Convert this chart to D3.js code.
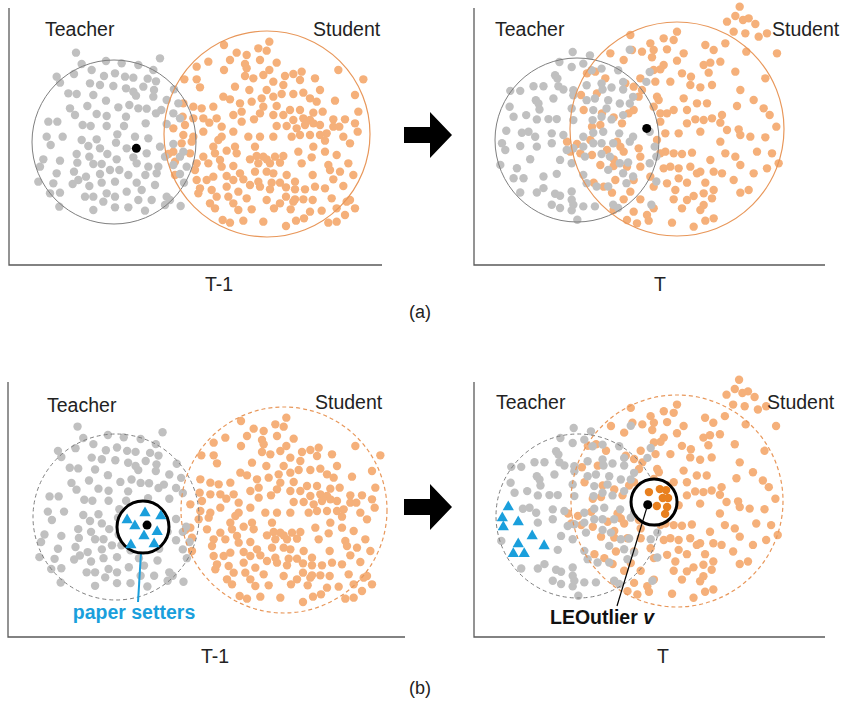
<!DOCTYPE html>
<html>
<head>
<meta charset="utf-8">
<script src="https://cdn.jsdelivr.net/npm/d3@7"></script>
<style>
  body { margin: 0; background: #fff; }
  text { font-family: Arial, "Liberation Sans", Helvetica, sans-serif; }
</style>
</head>
<body>
<div id="chart"></div>
<script>
// Labels
const clusterNames = ["Teacher", "Student"];
const timeLabels = ["T-1", "T"];
const rowLabels = ["(a)", "(b)"];
const noteLabels = ["paper setters", "LEOutlier"];

// Sketch-space points, step T-1
const teacherPrev = [[228,158],[480,175],[318,183],[365,190],[245,192],[415,195],[460,210],[275,210],[222,222],[170,230],[180,248],[312,228],[345,220],[375,230],[400,233],[443,236],[468,244],[270,250],[300,255],[340,258],[378,265],[400,275],[430,260],[462,270],[522,268],[205,280],[230,282],[280,285],[318,302],[408,287],[460,290],[500,300],[210,325],[262,318],[355,322],[388,315],[415,325],[440,326],[484,330],[535,310],[225,345],[290,342],[320,348],[378,350],[468,340],[520,340],[540,355],[145,365],[172,365],[248,375],[272,378],[320,378],[372,378],[437,370],[500,372],[140,410],[188,410],[245,420],[290,418],[352,403],[405,410],[445,415],[152,435],[265,438],[300,445],[348,428],[380,445],[480,440],[520,432],[130,478],[180,482],[230,462],[268,470],[322,462],[350,478],[400,472],[440,460],[495,470],[540,470],[550,455],[120,500],[232,488],[280,492],[305,492],[358,510],[410,490],[445,500],[475,500],[520,495],[560,500],[170,520],[222,515],[258,530],[300,522],[330,510],[385,525],[436,525],[470,520],[540,522],[115,545],[160,550],[218,552],[235,540],[268,558],[305,548],[345,545],[410,548],[465,555],[552,548],[150,580],[180,578],[255,590],[280,590],[320,580],[380,575],[425,570],[500,590],[310,605],[345,590],[415,600],[455,600],[510,600],[178,620],[280,630],[345,622],[385,622],[435,632],[495,615],[542,618]];

const studentPrev = [[672,135],[808,125],[800,152],[775,145],[710,158],[740,165],[625,185],[690,180],[735,192],[780,180],[830,188],[590,200],[672,210],[740,205],[808,210],[1015,210],[905,215],[880,222],[553,238],[590,238],[735,228],[760,235],[790,225],[855,228],[900,240],[945,235],[1090,238],[820,245],[600,262],[705,260],[748,270],[800,270],[850,255],[845,282],[880,282],[910,278],[1065,285],[960,270],[670,290],[690,298],[720,310],[755,305],[785,295],[820,290],[930,295],[950,305],[1005,302],[550,310],[580,320],[605,325],[640,320],[790,320],[830,318],[870,330],[900,330],[940,338],[968,335],[1075,335],[610,355],[580,355],[548,350],[650,355],[700,345],[725,335],[780,340],[820,345],[850,345],[880,360],[910,355],[930,360],[1000,358],[1035,358],[520,385],[555,375],[628,368],[665,380],[725,365],[762,358],[830,378],[860,378],[890,385],[915,375],[940,370],[960,375],[1000,380],[1018,380],[1065,370],[1073,395],[550,405],[580,410],[610,395],[665,410],[700,395],[745,410],[780,410],[820,410],[875,410],[900,405],[930,405],[960,405],[980,400],[1030,410],[545,430],[575,425],[640,440],[655,420],[705,440],[765,440],[520,455],[505,462],[570,460],[610,470],[645,460],[680,452],[710,460],[770,468],[790,470],[800,478],[825,470],[850,468],[895,455],[940,440],[975,422],[1050,430],[975,455],[1010,465],[750,478],[660,480],[525,485],[590,490],[625,490],[665,500],[700,498],[775,490],[810,490],[840,488],[905,490],[935,472],[985,495],[990,510],[1045,490],[585,510],[720,520],[765,515],[800,515],[820,520],[860,525],[1020,515],[525,525],[590,540],[620,540],[640,530],[680,528],[700,540],[730,538],[775,545],[815,548],[840,548],[885,545],[938,525],[1060,525],[1000,538],[600,565],[635,570],[680,560],[715,575],[750,555],[780,560],[810,568],[858,562],[885,568],[915,568],[945,560],[975,565],[1030,558],[595,580],[650,590],[685,590],[740,595],[800,600],[858,590],[885,598],[910,598],[938,600],[995,595],[1050,600],[630,610],[700,610],[840,610],[880,605],[1040,605],[645,625],[715,630],[755,628],[822,625],[872,628],[930,635],[965,632],[1010,625],[1065,625],[1035,645],[668,660],[690,668],[730,662],[790,665],[858,678],[888,662],[912,655],[985,668],[1010,665]];

// Step T
const teacherCur = [[458,155],[510,165],[630,148],[418,185],[455,200],[490,190],[515,210],[545,205],[405,225],[412,235],[595,210],[690,215],[270,272],[300,272],[340,258],[370,258],[415,258],[430,268],[460,270],[500,255],[545,250],[548,268],[575,262],[610,245],[610,268],[640,290],[680,245],[347,300],[355,310],[400,295],[460,285],[500,300],[525,295],[565,300],[600,310],[630,310],[268,320],[358,328],[455,325],[520,330],[560,325],[610,345],[280,350],[318,345],[350,358],[385,357],[410,357],[460,360],[518,360],[545,350],[575,358],[258,392],[305,398],[325,395],[345,410],[395,400],[430,405],[490,410],[520,398],[550,395],[598,400],[640,410],[690,395],[245,430],[300,438],[255,450],[350,440],[395,430],[440,450],[460,445],[490,440],[520,430],[545,430],[580,430],[630,425],[705,440],[240,495],[290,505],[330,478],[420,480],[455,490],[495,470],[545,462],[570,470],[600,490],[625,488],[690,490],[710,470],[280,535],[310,535],[370,530],[410,522],[490,525],[565,510],[610,520],[640,530],[300,578],[350,578],[370,565],[405,582],[420,588],[455,575],[500,550],[530,560],[565,560],[620,550],[710,545],[395,615],[420,625],[455,600],[460,615],[490,620],[525,620],[580,615],[595,625],[695,615],[472,660],[455,632]];

const studentCur = [[958,20],[920,65],[945,48],[968,60],[985,55],[1005,72],[940,95],[975,100],[1015,110],[1040,100],[1070,160],[978,155],[630,105],[770,95],[730,115],[760,120],[690,130],[855,135],[880,150],[915,130],[570,160],[635,150],[665,155],[700,150],[740,148],[790,160],[610,180],[695,172],[770,182],[730,195],[850,195],[870,188],[900,185],[945,215],[1035,235],[500,220],[525,215],[555,235],[660,235],[700,210],[720,208],[785,220],[812,230],[865,218],[615,250],[640,260],[705,245],[750,245],[810,255],[840,262],[875,255],[960,270],[665,270],[482,285],[530,280],[655,290],[710,290],[715,300],[790,295],[830,310],[860,310],[950,318],[1000,300],[1030,325],[490,330],[545,340],[580,352],[625,340],[640,330],[700,320],[720,340],[740,340],[760,330],[800,330],[905,345],[1048,345],[515,380],[540,375],[605,370],[720,365],[800,370],[825,358],[850,360],[875,355],[900,368],[920,390],[955,388],[1068,380],[440,425],[470,432],[510,420],[590,425],[600,440],[610,455],[655,445],[710,420],[735,400],[775,400],[840,395],[900,425],[960,405],[990,410],[1035,412],[450,455],[480,460],[515,465],[560,450],[580,478],[660,470],[720,460],[735,455],[760,460],[785,462],[815,458],[870,480],[915,460],[945,470],[1010,455],[1055,460],[1075,490],[540,495],[580,498],[620,500],[660,500],[730,505],[750,500],[775,505],[810,500],[840,515],[880,515],[960,495],[1040,505],[520,548],[550,560],[585,540],[640,540],[690,530],[740,550],[775,535],[800,548],[830,520],[855,548],[905,520],[940,540],[1000,520],[575,578],[630,575],[700,560],[765,570],[820,588],[850,580],[880,570],[960,578],[985,570],[610,598],[660,598],[700,625],[760,598],[800,600],[850,615],[875,595],[580,630],[640,635],[680,645],[785,625],[840,630],[620,660],[650,670],[685,662],[755,668],[820,680],[855,662],[880,655]];

// Extra marks in row (b)
const settersPrev = [[375,435],[428,414],[475,423],[398,453],[425,482],[464,470],[386,509],[455,506]];
const settersCur = [[261,393],[243,426],[291,438],[246,453],[333,480],[291,504],[369,510],[276,534],[309,534]];
const outlierNeighbours = [[685,360],[718,351],[737,354],[727,378],[743,378],[709,402],[740,405],[734,426]];
const anchorPrev = [[409,445],[434,450]];   // row a, row b
const anchorCur = [[681,385],[681,386]];
const ringPrev = [422,456];
const ringCur = [700,378];

// Sketch-space circles the points were read against: [cx, cy, r]
const sketch = {
  prev: { teacher: [342,426,246], student: [801,402,309] },
  cur:  { teacher: [471,420,247], student: [770,387,321] }
};

// Page layout of the four panels
const panels = [
  { row: 0, step: "prev", frame: [9,8,382,265],   teacher: [114,142,82], student: [267,134,103],
    tLabel: [45,36], sLabel: [313,36] },
  { row: 0, step: "cur",  frame: [474,8,825,265], teacher: [577,140,82], student: [677,129,107],
    tLabel: [495,36], sLabel: [772,36] },
  { row: 1, step: "prev", frame: [8,382,405,637], teacher: [116,517,83], student: [284,510,103],
    tLabel: [47,412], sLabel: [315,409] },
  { row: 1, step: "cur",  frame: [474,382,825,637], teacher: [578,516,82], student: [677,501,106],
    tLabel: [496,409], sLabel: [767,409] }
];

const grey = "#c0c0c0", orange = "#f5b07a", darkOrange = "#e8801f", blue = "#1a9fdc";
const greyLine = "#7f7f7f", orangeLine = "#e8975a";
const dotR = 4.2;
const fontSize = 19.5;

const svg = d3.select("#chart").append("svg")
  .attr("width", 841)
  .attr("height", 704);

function clusterScales(src, dst) {
  return {
    x: d3.scaleLinear().domain([src[0] - src[2], src[0] + src[2]]).range([dst[0] - dst[2], dst[0] + dst[2]]),
    y: d3.scaleLinear().domain([src[1] - src[2], src[1] + src[2]]).range([dst[1] - dst[2], dst[1] + dst[2]])
  };
}

const triangle = d3.symbol().type(d3.symbolTriangle).size(55);

panels.forEach(function(p) {
  const g = svg.append("g");
  const dashed = p.row === 1;
  const ts = clusterScales(sketch[p.step].teacher, p.teacher);
  const ss = clusterScales(sketch[p.step].student, p.student);
  const teacherPts = p.step === "prev" ? teacherPrev : teacherCur;
  const studentPts = p.step === "prev" ? studentPrev : studentCur;
  const setters = p.step === "prev" ? settersPrev : settersCur;

  // frame
  const f = p.frame;
  g.append("path")
    .attr("d", `M${f[0]},${f[1]}V${f[3]}H${f[2]}`)
    .attr("fill", "none")
    .attr("stroke", "#5a5a5a")
    .attr("stroke-width", 1.3);

  // in (b) at T the paper setters take the place of some teacher dots
  let shownTeacher = teacherPts;
  if (dashed && p.step === "cur") {
    shownTeacher = teacherPts.filter(function(d) {
      return !setters.some(s => Math.hypot(ts.x(d[0]) - ts.x(s[0]), ts.y(d[1]) - ts.y(s[1])) < 8);
    });
  }

  g.append("g").selectAll("circle")
    .data(studentPts)
    .join("circle")
    .attr("cx", d => ss.x(d[0]))
    .attr("cy", d => ss.y(d[1]))
    .attr("r", dotR)
    .attr("fill", orange);

  g.append("g").selectAll("circle")
    .data(shownTeacher)
    .join("circle")
    .attr("cx", d => ts.x(d[0]))
    .attr("cy", d => ts.y(d[1]))
    .attr("r", dotR)
    .attr("fill", grey);

  // cluster outlines
  g.append("circle")
    .attr("cx", p.teacher[0]).attr("cy", p.teacher[1]).attr("r", p.teacher[2])
    .attr("fill", "none").attr("stroke", greyLine).attr("stroke-width", 1)
    .attr("stroke-dasharray", dashed ? "4,3" : null);
  g.append("circle")
    .attr("cx", p.student[0]).attr("cy", p.student[1]).attr("r", p.student[2])
    .attr("fill", "none").attr("stroke", orangeLine).attr("stroke-width", 1.2)
    .attr("stroke-dasharray", dashed ? "4,3" : null);

  g.append("text").attr("x", p.tLabel[0]).attr("y", p.tLabel[1])
    .attr("font-size", fontSize).attr("fill", "#222").text(clusterNames[0]);
  g.append("text").attr("x", p.sLabel[0]).attr("y", p.sLabel[1])
    .attr("font-size", fontSize).attr("fill", "#222").text(clusterNames[1]);

  const anchor = (p.step === "prev" ? anchorPrev : anchorCur)[p.row];

  if (dashed && p.step === "prev") {
    const rx = ts.x(ringPrev[0]), ry = ts.y(ringPrev[1]);
    g.append("line")
      .attr("x1", rx - 2).attr("y1", ry + 26)
      .attr("x2", 138).attr("y2", 602)
      .attr("stroke", blue).attr("stroke-width", 2);
    g.append("circle").attr("cx", rx).attr("cy", ry).attr("r", 26)
      .attr("fill", "#fff").attr("stroke", "#000").attr("stroke-width", 3);
    g.append("g").selectAll("path")
      .data(setters)
      .join("path")
      .attr("transform", d => `translate(${ts.x(d[0])},${ts.y(d[1])})`)
      .attr("d", triangle)
      .attr("fill", blue);
    g.append("text").attr("x", 134).attr("y", 619)
      .attr("text-anchor", "middle").attr("font-size", fontSize).attr("font-weight", "bold")
      .attr("fill", blue).text(noteLabels[0]);
  }

  if (dashed && p.step === "cur") {
    g.append("g").selectAll("path")
      .data(setters)
      .join("path")
      .attr("transform", d => `translate(${ts.x(d[0])},${ts.y(d[1])})`)
      .attr("d", triangle)
      .attr("fill", blue);
    const rx = ts.x(ringCur[0]), ry = ts.y(ringCur[1]);
    g.append("circle").attr("cx", rx).attr("cy", ry).attr("r", 23)
      .attr("fill", "#fff").attr("stroke", "#000").attr("stroke-width", 3);
    g.append("g").selectAll("circle")
      .data(outlierNeighbours)
      .join("circle")
      .attr("cx", d => ss.x(d[0]))
      .attr("cy", d => ss.y(d[1]))
      .attr("r", dotR)
      .attr("fill", darkOrange);
    g.append("line")
      .attr("x1", ts.x(anchor[0])).attr("y1", ts.y(anchor[1]))
      .attr("x2", 617).attr("y2", 606)
      .attr("stroke", "#000").attr("stroke-width", 1.2);
    const t = g.append("text").attr("x", 550).attr("y", 624)
      .attr("font-size", fontSize).attr("font-weight", "bold").attr("fill", "#111");
    t.append("tspan").text(noteLabels[1] + " ");
    t.append("tspan").attr("font-style", "italic").text("v");
  }

  // teacher's mean point
  g.append("circle")
    .attr("cx", ts.x(anchor[0])).attr("cy", ts.y(anchor[1]))
    .attr("r", 4.5).attr("fill", "#000");

  // step label under the panel
  const mid = p.step === "prev" ? (dashed ? 215 : 219) : (dashed ? 663 : 660);
  g.append("text").attr("x", mid).attr("y", f[3] + 26)
    .attr("text-anchor", "middle").attr("font-size", fontSize).attr("fill", "#222")
    .text(p.step === "prev" ? timeLabels[0] : timeLabels[1]);
});

// transition arrows between the panels
[135, 507].forEach(function(cy) {
  svg.append("path")
    .attr("d", `M404,${cy - 8}H430V${cy - 23}L452,${cy}L430,${cy + 23}V${cy + 8}H404Z`)
    .attr("fill", "#000");
});

rowLabels.forEach(function(lab, i) {
  svg.append("text")
    .attr("x", 420).attr("y", i === 0 ? 318 : 694)
    .attr("text-anchor", "middle").attr("font-size", 18).attr("fill", "#222")
    .text(lab);
});
</script>
</body>
</html>
